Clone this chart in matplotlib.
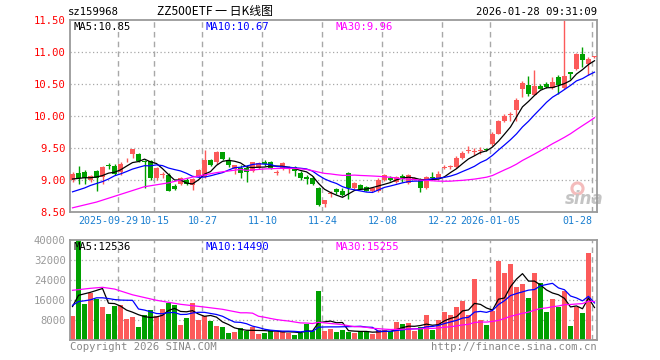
import numpy as np
import pandas as pd
import matplotlib
matplotlib.use("Agg")
import matplotlib.pyplot as plt

# daily candles, 2025-09-17 .. 2026-01-28 (88 trading days)
opens = [9.00, 9.11, 9.125, 9.00, 9.145, 9.05, 9.23, 9.22, 9.125, 9.31,
         9.41, 9.41, 9.30, 9.30, 9.03, 9.08, 9.085, 8.915, 8.94, 9.005,
         8.93, 9.06, 9.05, 9.32, 9.28, 9.44, 9.32, 9.17, 9.20, 9.19,
         9.145, 9.19, 9.29, 9.29, 9.12, 9.17, 9.185, 9.21, 9.11, 9.057,
         9.04, 8.875, 8.625, 8.78, 8.86, 8.83, 9.115, 8.88, 8.92, 8.90,
         8.83, 8.83, 9.00, 9.04, 8.98, 9.06, 8.96, 9.02, 9.01, 8.88,
         9.04, 9.04, 9.20, 9.205, 9.21, 9.35, 9.465, 9.45, 9.46, 9.48,
         9.56, 9.73, 9.92, 10.02, 10.10, 10.43, 10.49, 10.34, 10.47, 10.51,
         10.44, 10.61, 10.45, 10.69, 10.74, 10.975, 10.82, 10.925]
highs = [9.13, 9.23, 9.16, 9.09, 9.16, 9.23, 9.27, 9.25, 9.29, 9.35,
         9.49, 9.42, 9.32, 9.32, 9.21, 9.135, 9.11, 8.94, 9.05, 9.03,
         9.03, 9.17, 9.47, 9.34, 9.46, 9.45, 9.37, 9.24, 9.24, 9.24,
         9.29, 9.28, 9.31, 9.30, 9.16, 9.28, 9.23, 9.23, 9.14, 9.08,
         9.06, 8.90, 8.70, 8.84, 8.88, 8.88, 9.125, 8.97, 8.935, 8.91,
         8.89, 9.03, 9.10, 9.06, 9.07, 9.10, 9.10, 9.05, 9.04, 9.06,
         9.125, 9.15, 9.245, 9.245, 9.38, 9.46, 9.53, 9.51, 9.52, 9.50,
         9.75, 9.95, 10.04, 10.07, 10.29, 10.55, 10.635, 10.73, 10.50, 10.54,
         10.61, 10.64, 11.50, 10.70, 10.99, 11.08, 10.93, 10.94]
lows = [8.98, 8.94, 8.94, 8.98, 8.84, 8.94, 9.18, 9.09, 9.09, 9.28,
        9.35, 9.29, 8.885, 9.00, 9.00, 9.04, 8.83, 8.85, 8.92, 8.93,
        8.85, 9.05, 9.03, 9.23, 9.26, 9.32, 9.21, 9.10, 9.03, 8.97,
        9.135, 9.18, 9.22, 9.18, 9.09, 9.16, 9.12, 9.07, 9.00, 8.95,
        8.93, 8.60, 8.59, 8.74, 8.79, 8.75, 8.71, 8.87, 8.86, 8.83,
        8.82, 8.81, 8.99, 8.99, 8.96, 8.98, 8.95, 9.00, 8.81, 8.86,
        9.00, 9.03, 9.17, 9.17, 9.19, 9.33, 9.42, 9.40, 9.41, 9.46,
        9.54, 9.72, 9.91, 9.93, 9.93, 10.30, 10.31, 10.33, 10.42, 10.45,
        10.43, 10.35, 10.43, 10.59, 10.73, 10.77, 10.65, 10.91]
closes = [9.10, 9.03, 9.03, 9.07, 9.03, 9.21, 9.22, 9.10, 9.255, 9.32,
          9.49, 9.30, 9.29, 9.04, 9.19, 9.09, 8.84, 8.865, 9.04, 8.95,
          9.02, 9.16, 9.31, 9.24, 9.44, 9.33, 9.24, 9.24, 9.11, 9.125,
          9.28, 9.27, 9.25, 9.19, 9.125, 9.265, 9.19, 9.15, 9.04, 9.016,
          8.94, 8.615, 8.69, 8.785, 8.81, 8.77, 8.88, 8.96, 8.87, 8.84,
          8.88, 9.01, 9.09, 9.005, 9.05, 9.02, 9.08, 9.025, 8.88, 9.05,
          9.035, 9.10, 9.21, 9.21, 9.35, 9.43, 9.47, 9.455, 9.47, 9.475,
          9.73, 9.93, 10.00, 10.03, 10.26, 10.52, 10.35, 10.47, 10.43, 10.46,
          10.535, 10.495, 10.635, 10.665, 10.975, 10.875, 10.895, 10.93]
volumes = [9700, 40000, 14500, 19000, 16600, 13500, 10500, 13850, 14000, 8600,
           9300, 5400, 10100, 12200, 9700, 12600, 15000, 14300, 6100, 9000,
           14900, 8200, 9800, 7800, 5600, 5400, 2900, 3200, 4900, 3700,
           5200, 2700, 2900, 4000, 3500, 3700, 2900, 2300, 2900, 6700,
           3700, 19800, 3800, 4400, 3400, 4200, 3450, 2900, 3800, 3400,
           2700, 4000, 4000, 3700, 7200, 6400, 7000, 3700, 5300, 10000,
           4100, 8200, 11400, 10100, 13300, 15800, 10100, 24500, 8100, 6100,
           11700, 31800, 27000, 30600, 21300, 22600, 16900, 27000, 22800, 11400,
           16500, 13400, 19700, 5700, 13400, 10900, 35000, 500]

# moving-average values before enough days are in the window
p_ma5_lead = [9.02, 9.03, 9.04, 9.04]
p_ma10_lead = [8.82, 8.85, 8.88, 8.92, 8.95, 8.98, 9.02, 9.07, 9.10]
p_ma30_lead_x = [0, 4, 8, 12, 16, 20, 24, 28]
p_ma30_lead = [8.57, 8.66, 8.78, 8.90, 8.96, 9.05, 9.12, 9.17]
v_ma5_lead = [13500, 18000, 18600, 19200]
v_ma10_lead = [14000, 15500, 15800, 16200, 17000, 17000, 16700, 16300, 16100]
v_ma30_lead_x = [0, 3, 5, 7, 10, 14, 18, 22, 25, 28]
v_ma30_lead = [20000, 20800, 21200, 20500, 18200, 16000, 14400, 13300, 12400, 11000]

tick_idx = [8, 14, 22, 32, 42, 52, 62, 70, 87]
tick_lbl = ["2025-09-29", "10-15", "10-27", "11-10", "11-24", "12-08",
            "12-22", "2026-01-05", "01-28"]

price_legend = ["MA5:10.85", "MA10:10.67", "MA30:9.96"]
vol_legend = ["MA5:12536", "MA10:14490", "MA30:15255"]

RED = "#fc5a5a"
GREEN = "#00a000"
MA_COLORS = ["black", "#0000ff", "#ff00ff"]
GRID = "#a8a8a8"
MONO = "DejaVu Sans Mono"


def ma_line(values, n, lead_x, lead_y):
    s = pd.Series(values, dtype=float).rolling(n).mean()
    xs = list(lead_x) + list(range(n - 1, len(values)))
    ys = list(lead_y) + list(s.iloc[n - 1:])
    return xs, ys


W, H = 660, 360
fig = plt.figure(figsize=(W / 100, H / 100), dpi=100)
fig.patch.set_facecolor("white")

L, R = 70, 597
ax_p = fig.add_axes([L / W, 1 - 212.3 / H, (R - L) / W, 192 / H])
ax_v = fig.add_axes([L / W, 1 - 340.3 / H, (R - L) / W, 100 / H])

n = len(closes)
x = np.arange(n)
o = np.array(opens)
c = np.array(closes)
up = c >= o
cols = np.where(up, RED, GREEN)

for ax in (ax_p, ax_v):
    ax.set_xlim(-0.42, n - 0.58)
    for sp in ax.spines.values():
        sp.set_color("#9a9a9a")
        sp.set_linewidth(1.3)
    ax.set_xticks([])
    ax.tick_params(axis="y", length=0, pad=3)
    for t in tick_idx:
        ax.axvline(t - 0.35, color=GRID, lw=1.0, ls=(0, (4, 3)), zorder=0)

# price panel
ax_p.set_ylim(8.5, 11.5)
pticks = np.arange(8.5, 11.51, 0.5)
ax_p.set_yticks(pticks)
ax_p.set_yticklabels([f"{v:.2f}" for v in pticks], color="red",
                     fontsize=7.6, family=MONO)
for v in pticks[1:-1]:
    ax_p.axhline(v, color=GRID, lw=0.9, ls=(0, (1, 2)), zorder=0)

# faint sina watermark (eye + word) behind the candles
ax_p.plot([0.962], [0.125], transform=ax_p.transAxes, marker="o", ms=8,
          mfc="none", mec="#f4bcbc", mew=2.2, zorder=1)
ax_p.text(0.975, 0.07, "sina", transform=ax_p.transAxes, color="#c4c4c4",
          fontsize=12, fontweight="bold", style="italic", ha="center",
          va="center", zorder=1)

ax_p.vlines(x, lows, highs, colors=cols, lw=1.0, zorder=2)
body_lo = np.minimum(o, c)
body_h = np.maximum(np.abs(c - o), 0.014)
ax_p.bar(x, body_h, bottom=body_lo, width=0.8, color=cols, lw=0, zorder=3)

for (n_, lx, ly), col in zip([(5, range(4), p_ma5_lead),
                               (10, range(9), p_ma10_lead),
                               (30, p_ma30_lead_x, p_ma30_lead)], MA_COLORS):
    xs, ys = ma_line(closes, n_, lx, ly)
    ax_p.plot(xs, ys, color=col, lw=0.9, zorder=4)

# volume panel
ax_v.set_ylim(0, 40000)
vticks = [8000, 16000, 24000, 32000, 40000]
ax_v.set_yticks(vticks)
ax_v.set_yticklabels([str(v) for v in vticks], color="#999999",
                     fontsize=7.6, family=MONO)
for v in vticks[:-1]:
    ax_v.axhline(v, color=GRID, lw=0.9, ls=(0, (1, 2)), zorder=0)
ax_v.bar(x, volumes, width=0.8, color=cols, lw=0, zorder=2)
for (n_, lx, ly), col in zip([(5, range(4), v_ma5_lead),
                               (10, range(9), v_ma10_lead),
                               (30, v_ma30_lead_x, v_ma30_lead)], MA_COLORS):
    xs, ys = ma_line(volumes, n_, lx, ly)
    ax_v.plot(xs, ys, color=col, lw=0.9, zorder=4)

# legends inside panels
for txt, col, px in zip(price_legend, MA_COLORS, [74, 206, 336]):
    fig.text(px / W, 1 - 27 / H, txt, color=col, fontsize=7.6, family=MONO,
             va="center", ha="left")
for txt, col, px in zip(vol_legend, MA_COLORS, [74, 206, 336]):
    fig.text(px / W, 1 - 247 / H, txt, color=col, fontsize=7.6, family=MONO,
             va="center", ha="left")

# date labels
for t, lbl in zip(tick_idx, tick_lbl):
    xp = ax_p.transData.transform((t - 0.35, 0))[0]
    ha = "center"
    if lbl == tick_lbl[-1]:
        ha = "right"
    elif lbl == tick_lbl[0]:
        xp -= 10  # keep clear of the next label
    fig.text(xp / W, 1 - 221 / H, lbl, color="#1a7fd0", fontsize=7.2,
             family=MONO, ha=ha, va="center")

# header and footer
fig.text(68 / W, 1 - 12 / H, "sz159968", fontsize=7.6, family=MONO,
         va="center", ha="left")
fig.text(215 / W, 1 - 12 / H, "ZZ500ETF 一 日K线图", fontsize=8.6,
         family=["Noto Sans CJK SC", "DejaVu Sans"], va="center", ha="center")
fig.text(R / W, 1 - 12 / H, "2026-01-28 09:31:09", fontsize=7.6, family=MONO,
         va="center", ha="right")
fig.text(L / W, 1 - 347 / H, "Copyright 2026 SINA.COM", color="#888888",
         fontsize=7.6, family=MONO, va="center", ha="left")
fig.text(R / W, 1 - 347 / H, "http://finance.sina.com.cn", color="#888888",
         fontsize=7.6, family=MONO, va="center", ha="right")

fig.savefig("out.png", dpi=100)
